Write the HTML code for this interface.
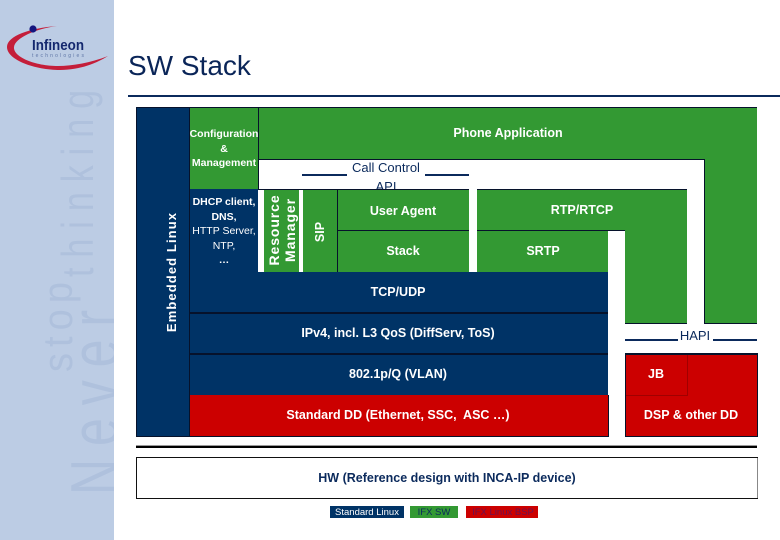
<!DOCTYPE html>
<html><head><meta charset="utf-8"><style>
html,body{margin:0;padding:0;background:#fff;width:780px;height:540px;overflow:hidden}
svg{display:block}
text{font-family:"Liberation Sans",sans-serif}
.w{fill:#fff;font-weight:bold;text-anchor:middle;font-size:12.5px}
.s{fill:#fff;font-weight:bold;text-anchor:middle;font-size:10.5px}
.n{fill:#0b2a5c;text-anchor:middle;font-size:13px}
</style></head><body>
<svg width="780" height="540" viewBox="0 0 780 540" xmlns="http://www.w3.org/2000/svg">
<defs>
<clipPath id="c"><rect width="114" height="540"/></clipPath>
<clipPath id="a"><rect x="360" y="178" width="50" height="11"/></clipPath>
</defs>
<rect width="780" height="540" fill="#fff"/>
<rect width="114" height="540" fill="#bccce4"/>
<g fill="#afc1dd" clip-path="url(#c)">
<text transform="translate(118,495) rotate(-90) scale(1,1.35)" font-size="50" textLength="185" lengthAdjust="spacing">Never</text>
<text transform="translate(72,372) rotate(-90) scale(1,1.1)" font-size="38" textLength="90" lengthAdjust="spacing">stop</text>
<text transform="translate(93,277) rotate(-90) scale(1,1.3)" font-size="34" textLength="187" lengthAdjust="spacing">thinking</text>
</g>
<path d="M57,26C30,28 7,36 7,47C7,60 35,70 60,70C80,70 97,63 108,56C90,63 72,66 58,66C35,66 13,57 14,47C15,38 35,29 57,26Z" fill="#c41e3a"/>
<circle cx="33" cy="29" r="3.600" fill="#15157e"/>
<text x="32" y="50" font-size="15" font-weight="bold" fill="#14286e" textLength="52" lengthAdjust="spacingAndGlyphs">Infineon</text>
<text x="32" y="57" font-size="5" fill="#5f76a6" textLength="52" lengthAdjust="spacing">technologies</text>
<text x="128" y="75" font-size="28" fill="#0a2558">SW Stack</text>
<rect x="128" y="95" width="652" height="2" fill="#0b2a5c"/>

<g>
<rect x="136" y="107" width="54" height="330" fill="#003366"/>
<rect x="190" y="107" width="69" height="82" fill="#339933"/>
<path d="M258,107H757V323H704V159H258Z" fill="#339933"/>
<rect x="190" y="189" width="68" height="83" fill="#003366"/>
<rect x="264" y="189" width="35" height="83" fill="#339933"/>
<rect x="303" y="189" width="166" height="83" fill="#339933"/>
<path d="M477,189H687V323H625V230H477Z" fill="#339933"/>
<rect x="477" y="230" width="131" height="42" fill="#339933"/>
<rect x="190" y="272" width="418" height="123" fill="#003366"/>
<rect x="190" y="395" width="418" height="41" fill="#cc0000"/>
<rect x="625" y="353" width="132" height="83" fill="#cc0000"/>
</g>
<path d="M625.500,395.500H687.500V353.500" fill="none" stroke="#a00000" stroke-width="1"/>
<path d="M136.500,107.500H757 M136.500,107.500V436.500H608.500V395 M189.500,107V436 M258.500,107V189 M258,159.500H704.500V323 M704,323.500H757 M625,323.500H687 M258,189.500H469 M477,189.500H687 M337,230.500H469 M477,230.500H625 M337.500,189V272 M625.500,353V436.500H757.500V353 M608.500,395V436" fill="none" stroke="#06122b" stroke-width="1"/>
<rect x="190" y="312" width="418" height="2" fill="#06122b"/>
<rect x="190" y="353" width="418" height="2" fill="#06122b"/>
<rect x="625" y="353" width="132" height="2" fill="#06122b"/>

<g fill="#0b2a5c">
<rect x="302" y="174" width="45" height="2"/>
<rect x="425" y="174" width="44" height="2"/>
<rect x="625" y="339" width="53" height="2"/>
<rect x="713" y="339" width="44" height="2"/>
</g>
<rect x="136" y="445" width="621" height="1" fill="#999"/>
<rect x="136" y="446" width="621" height="2" fill="#000"/>
<rect x="136.500" y="457.500" width="621" height="41" fill="#fff" stroke="#111" stroke-width="1"/>
<rect x="757" y="458" width="1" height="40" fill="#888"/>
<rect x="330" y="506" width="74" height="12" fill="#003366"/>
<rect x="410" y="506" width="48" height="12" fill="#339933"/>
<rect x="466" y="506" width="72" height="12" fill="#cc0000"/>

<text class="w" x="508" y="137">Phone Application</text>
<text class="s" x="224" y="137">Configuration</text>
<text class="s" x="224" y="152">&amp;</text>
<text class="s" x="224" y="166">Management</text>
<text class="n" x="386" y="172">Call Control</text>
<text class="n" x="386" y="191" clip-path="url(#a)">API</text>
<text class="s" x="224" y="205">DHCP client,</text>
<text class="s" x="224" y="220">DNS,</text>
<text class="s" x="224" y="234" style="font-weight:normal">HTTP Server,</text>
<text class="s" x="224" y="249" style="font-weight:normal">NTP,</text>
<text class="s" x="224" y="263">…</text>
<text class="w" transform="translate(279,230) rotate(-90)" style="font-size:14px;letter-spacing:.9px">Resource</text>
<text class="w" transform="translate(295,230) rotate(-90)" style="font-size:14px;letter-spacing:.9px">Manager</text>
<text class="w" transform="translate(324,232) rotate(-90)">SIP</text>
<text class="w" transform="translate(176,272) rotate(-90)" style="font-size:13px;letter-spacing:1.100px">Embedded Linux</text>
<text class="w" x="403" y="215">User Agent</text>
<text class="w" x="403" y="255">Stack</text>
<text class="w" x="582" y="214">RTP/RTCP</text>
<text class="w" x="543" y="255">SRTP</text>
<text class="w" x="398" y="296">TCP/UDP</text>
<text class="w" x="398" y="337">IPv4, incl. L3 QoS (DiffServ, ToS)</text>
<text class="w" x="398" y="378">802.1p/Q (VLAN)</text>
<text class="w" x="398" y="419" xml:space="preserve">Standard DD (Ethernet, SSC,  ASC …)</text>
<text class="n" x="695" y="340">HAPI</text>
<text class="w" x="656" y="378">JB</text>
<text class="w" x="691" y="419">DSP &amp; other DD</text>
<text class="n" x="447" y="482" style="font-weight:bold;font-size:12.500px">HW (Reference design with INCA-IP device)</text>
<text x="367" y="515" font-size="9.500" fill="#fff" text-anchor="middle">Standard Linux</text>
<text x="434" y="515" font-size="9.500" fill="#0b2a5c" text-anchor="middle">IFX SW</text>
<text x="503" y="515" font-size="9.500" fill="#6a1050" text-anchor="middle">IFX Linux BSP</text>
</svg>
</body></html>
